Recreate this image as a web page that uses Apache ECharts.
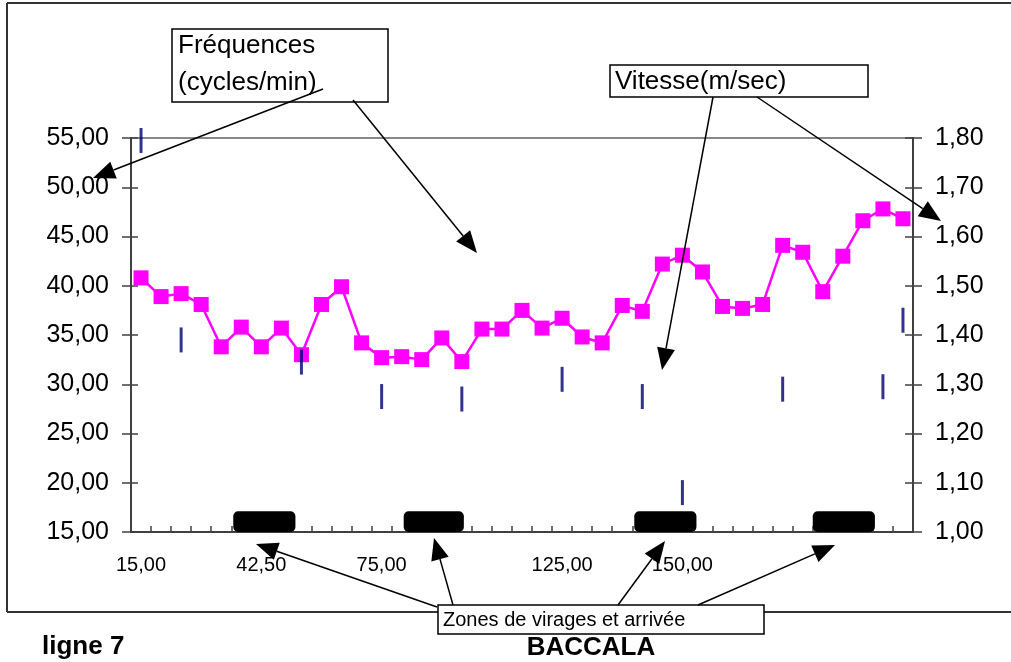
<!DOCTYPE html>
<html>
<head>
<meta charset="utf-8">
<script src="https://cdn.jsdelivr.net/npm/echarts@6/dist/echarts.min.js"></script>
<style>
  html, body { margin: 0; padding: 0; background: #fff; }
  #chart { width: 1011px; height: 662px; }
</style>
</head>
<body>
<div id="chart"></div>
<script>
// étiquettes de l'axe des distances (une par point, vides entre)
var xLabels = ['15,00', '', '', '', '', '', '42,50', '', '', '', '', '', '75,00', '', '', '', '', '', '', '', '',
    '125,00', '', '', '', '', '', '150,00', '', '', '', '', '', '', '', '', '', '', ''];

// fréquences (cycles/min), axe de gauche
var frequences = [40.8, 38.9, 39.2, 38.1, 33.8, 35.8, 33.8, 35.7, 33.0, 38.1, 39.9, 34.2, 32.7, 32.8, 32.5,
    34.7, 32.3, 35.6, 35.6, 37.5, 35.7, 36.7, 34.8, 34.2, 38.0, 37.4, 42.2, 43.1, 41.4, 37.9, 37.7, 38.1,
    44.1, 43.4, 39.4, 43.0, 46.6, 47.8, 46.8];

// vitesse (m/sec), axe de droite : seulement à certains points
var vitesseIdx = [0, 2, 8, 12, 16, 21, 25, 27, 32, 37, 38];
var vitesse = [1.795, 1.39, 1.345, 1.275, 1.27, 1.31, 1.275, 1.08, 1.29, 1.295, 1.43];

// zones de virages et arrivée (en rang de point)
var zoneDebut = [4.6, 13.1, 24.6, 33.5];
var zoneFin = [7.7, 16.1, 27.7, 36.6];
var zoneHaut = 17.1;

var font = "'Liberation Sans', Arial, sans-serif";

function virgule(d) {
    return function (v) { return v.toFixed(d).replace('.', ','); };
}

// flèche : trait + pointe pleine
function fleche(x1, y1, x2, y2) {
    var dx = x2 - x1, dy = y2 - y1, len = Math.sqrt(dx * dx + dy * dy);
    var ux = dx / len, uy = dy / len, hl = 22, hw = 9;
    var bx = x2 - ux * hl, by = y2 - uy * hl;
    return [
        {type: 'line', z: 100, shape: {x1: x1, y1: y1, x2: bx, y2: by}, style: {stroke: '#000', lineWidth: 1.5}},
        {type: 'polygon', z: 100, shape: {points: [[x2, y2], [bx - uy * hw, by + ux * hw], [bx + uy * hw, by - ux * hw]]},
            style: {fill: '#000'}}
    ];
}

function boite(x, y, w, h) {
    return {type: 'rect', z: 99, shape: {x: x, y: y, width: w, height: h}, style: {fill: '#fff', stroke: '#000', lineWidth: 1.5}};
}

function texte(x, y, t, size, bold, align) {
    return {type: 'text', z: 102, x: x, y: y, style: {text: t, fontSize: size, fontFamily: font,
        fontWeight: bold ? 'bold' : 'normal', fill: '#000', align: align || 'left', verticalAlign: 'middle'}};
}

var graphics = [
    // cadre
    {type: 'line', shape: {x1: 7, y1: 3, x2: 1011, y2: 3}, style: {stroke: '#333', lineWidth: 2}},
    {type: 'line', shape: {x1: 7, y1: 612, x2: 1011, y2: 612}, style: {stroke: '#333', lineWidth: 2}},
    {type: 'line', shape: {x1: 7, y1: 3, x2: 7, y2: 612}, style: {stroke: '#333', lineWidth: 2}}
];
graphics.push(boite(172, 29, 216, 73));
graphics.push(boite(610, 65, 258, 32));
graphics.push(boite(438, 605, 326, 29));
graphics = graphics
    .concat(fleche(323, 89, 93, 178))
    .concat(fleche(353, 100, 477, 253))
    .concat(fleche(713, 97, 662, 370))
    .concat(fleche(757, 97, 941, 221))
    .concat(fleche(437, 607, 256, 544))
    .concat(fleche(453, 605, 434, 538))
    .concat(fleche(618, 605, 665, 541))
    .concat(fleche(698, 605, 835, 545));
graphics.push(texte(178, 46, 'Fréquences', 26));
graphics.push(texte(178, 83, '(cycles/min)', 26));
graphics.push(texte(615, 82, 'Vitesse(m/sec)', 26));
graphics.push(texte(443, 620, 'Zones de virages et arrivée', 20));
graphics.push(texte(42, 647, 'ligne 7', 26, true));
graphics.push(texte(591, 648, 'BACCALA', 26, true, 'center'));

var chart = echarts.init(document.getElementById('chart'));

var axisCol = '#404040';
var option = {
    animation: false,
    backgroundColor: '#fff',
    textStyle: {fontFamily: font},
    grid: {left: 131, right: 98, top: 138, bottom: 130, show: true, borderColor: '#888', borderWidth: 2},
    xAxis: [
        {
            type: 'category',
            data: xLabels.map(function (l, i) { return String(i); }),
            axisLine: {onZero: false, lineStyle: {color: axisCol, width: 2}},
            axisTick: {interval: 0, length: 6, lineStyle: {color: axisCol, width: 1.5}},
            axisLabel: {interval: 0, margin: 23, fontSize: 20, color: '#000',
                formatter: function (v, i) { return xLabels[i]; }},
            splitLine: {show: false}
        },
        {
            type: 'category',
            position: 'bottom',
            data: xLabels.map(function (l, i) { return String(i); }),
            axisLine: {show: false, onZero: false},
            axisTick: {show: true, inside: true, interval: 0, length: 6, lineStyle: {color: axisCol, width: 1.5}},
            axisLabel: {show: false}
        },
        {type: 'value', min: -0.5, max: 38.5, show: false, axisLine: {onZero: false}}
    ],
    yAxis: [
        {
            type: 'value', min: 15, max: 55, interval: 5,
            axisLine: {show: true, onZero: false, lineStyle: {color: axisCol, width: 2}},
            axisTick: {show: true, length: 9, lineStyle: {color: axisCol, width: 1.5}},
            axisLabel: {fontSize: 25, color: '#000', margin: 22, formatter: virgule(2)},
            splitLine: {show: false}
        },
        {
            type: 'value', position: 'right', min: 1, max: 1.8, interval: 0.1,
            axisLine: {show: true, onZero: false, lineStyle: {color: axisCol, width: 2}},
            axisTick: {show: true, length: 9, lineStyle: {color: axisCol, width: 1.5}},
            axisLabel: {fontSize: 25, color: '#000', margin: 22, formatter: virgule(2)},
            splitLine: {show: false}
        },
        {
            type: 'value', position: 'left', min: 15, max: 55, interval: 5,
            axisLine: {show: false, onZero: false},
            axisTick: {show: true, inside: true, length: 7, lineStyle: {color: axisCol, width: 1.5}},
            axisLabel: {show: false}, splitLine: {show: false}
        },
        {
            type: 'value', position: 'right', min: 1, max: 1.8, interval: 0.1,
            axisLine: {show: false, onZero: false},
            axisTick: {show: true, inside: true, length: 8, lineStyle: {color: axisCol, width: 1.5}},
            axisLabel: {show: false}, splitLine: {show: false}
        }
    ],
    series: [
        {
            name: 'Fréquences',
            type: 'line',
            xAxisIndex: 0, yAxisIndex: 0,
            data: frequences,
            symbol: 'rect', symbolSize: 15,
            lineStyle: {color: '#ff00ff', width: 2.5},
            itemStyle: {color: '#ff00ff'},
            z: 5
        },
        {
            name: 'Vitesse',
            type: 'scatter',
            xAxisIndex: 0, yAxisIndex: 1,
            clip: false,
            data: vitesseIdx.map(function (x, i) { return [x, vitesse[i]]; }),
            symbol: 'rect', symbolSize: [3, 25],
            itemStyle: {color: '#000070'},
            z: 6
        },
        {
            name: 'Zones',
            type: 'custom',
            xAxisIndex: 2, yAxisIndex: 0,
            data: zoneDebut.map(function (d, i) { return [d, zoneFin[i], zoneHaut]; }),
            renderItem: function (params, api) {
                var p0 = api.coord([api.value(0), api.value(2)]);
                var p1 = api.coord([api.value(1), 15]);
                return {type: 'rect', shape: {x: p0[0], y: p0[1], width: p1[0] - p0[0], height: p1[1] - p0[1], r: 5},
                    style: {fill: '#000'}};
            },
            z: 4
        },
        // séries vides pour rattacher les axes de graduations intérieures
        {type: 'line', xAxisIndex: 1, yAxisIndex: 2, data: [], silent: true},
        {type: 'line', xAxisIndex: 1, yAxisIndex: 3, data: [], silent: true}
    ],
    graphic: graphics
};

chart.setOption(option);
</script>
</body>
</html>
